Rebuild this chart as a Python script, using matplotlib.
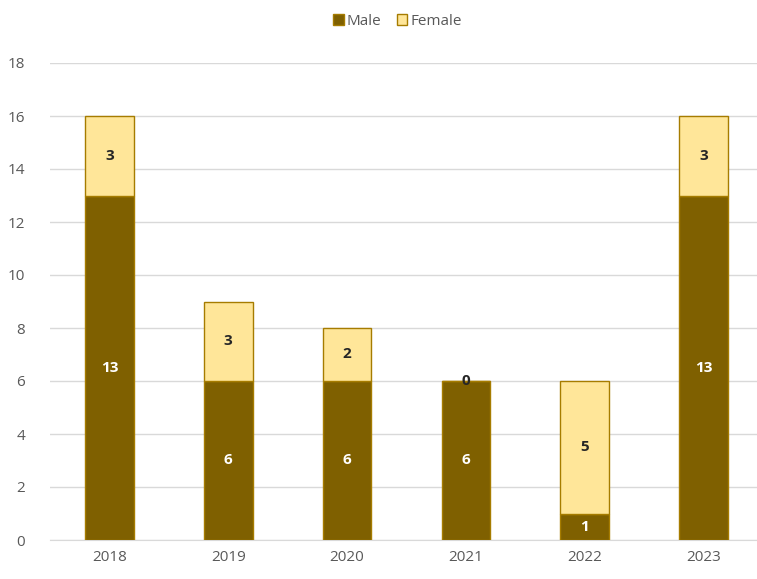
import matplotlib.pyplot as plt
import numpy as np

years = ['2018', '2019', '2020', '2021', '2022', '2023']
male = [13, 6, 6, 6, 1, 13]
female = [3, 3, 2, 0, 5, 3]

male_color = '#7F6000'
female_color = '#FFE699'
edge_color = '#A67C00'
text_grey = '#595959'

plt.rcParams['font.family'] = ['Open Sans', 'DejaVu Sans']

fig = plt.figure(figsize=(7.57, 5.79), dpi=100)
ax = fig.add_axes([50 / 757, 39 / 579, 707 / 757, 477 / 579])

x = np.arange(len(years))
w = 0.41
bm = ax.bar(x, male, w, color=male_color, edgecolor=edge_color, linewidth=1, label='Male', zorder=3)
bf = ax.bar(x, female, w, bottom=male, color=female_color, edgecolor=edge_color, linewidth=1,
            label='Female', zorder=3)

# data labels in the middle of each segment
for i in range(len(years)):
    ax.text(x[i], male[i] / 2, str(male[i]), ha='center', va='center',
            color='white', fontsize=11, fontweight='bold', zorder=4)
    ax.text(x[i], male[i] + female[i] / 2, str(female[i]), ha='center', va='center',
            color='#262626', fontsize=11, fontweight='bold', zorder=4)

ax.set_ylim(0, 18)
ax.set_yticks(range(0, 19, 2))
ax.set_xlim(-0.5, 5.45)
ax.set_xticks(x)
ax.set_xticklabels(years)
ax.grid(axis='y', color='#D9D9D9', linewidth=1, zorder=0)
ax.tick_params(axis='both', length=0, labelsize=11, colors=text_grey)
ax.tick_params(axis='x', pad=7)
ax.tick_params(axis='y', pad=18)
for s in ['top', 'right', 'left']:
    ax.spines[s].set_visible(False)
ax.spines['bottom'].set_color('#D9D9D9')

fig.legend(handles=[bm, bf], loc='upper center', bbox_to_anchor=(0.525, 1.0), ncol=2,
           frameon=False, fontsize=11, handlelength=0.7, handleheight=0.7,
           handletextpad=0.2, columnspacing=1.0, labelcolor=text_grey)

fig.savefig('out.png', dpi=100)
